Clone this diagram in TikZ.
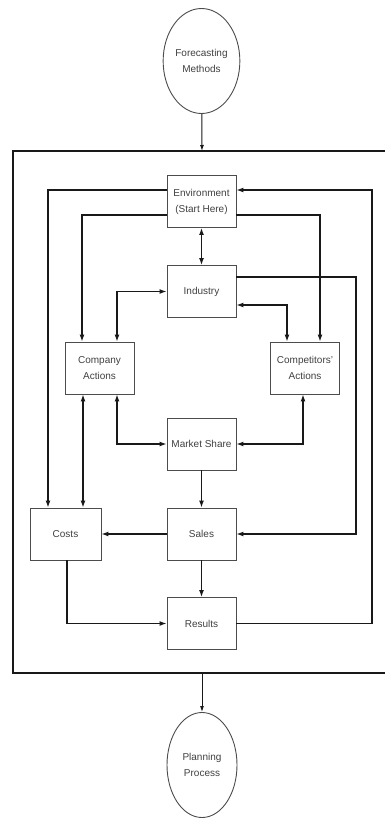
\documentclass[tikz,border=0pt]{standalone}
\usepackage{fontspec}
\setmainfont{Liberation Sans}
\usetikzlibrary{shapes.geometric,arrows.meta,calc}
\begin{document}
\begin{tikzpicture}[x=1pt,y=-1pt,
  every node/.style={font=\fontsize{10}{16}\selectfont, text=black!75},
  blk/.style={draw=black!70, line width=0.9pt, minimum width=69pt, minimum height=52pt, align=center, inner sep=1pt},
  oval/.style={ellipse, draw=black!70, line width=0.9pt, minimum width=70pt, minimum height=105pt, align=center, inner sep=1pt},
  conn/.style={draw=black!90, line width=1.3pt},
  arr/.style={conn, -{Latex[length=7pt,width=5pt]}},
  dbl/.style={conn, {Latex[length=7pt,width=5pt]}-{Latex[length=7pt,width=5pt]}},
  thin arr/.style={draw=black!90, line width=1pt, -{Latex[length=6pt,width=4pt]}}
]
\useasboundingbox (0,0) rectangle (385,820);

% outer frame (open to the right edge)
\coordinate (otl) at (13,151);
\coordinate (obl) at (13,673);
\coordinate (otr) at (386,151);
\coordinate (obr) at (386,673);
\coordinate (otop) at (202,151);
\coordinate (obot) at (202,673);
\draw[draw=black!90, line width=1.2pt] (otr) -- (otl) -- (obl) -- (obr);

\node[oval] (fm) at (201.5,61) {Forecasting\\Methods};
\node[oval] (pp) at (202,765) {Planning\\Process};

\node[blk] (env) at (201.5,201.5) {Environment\\(Start Here)};
\node[blk] (ind) at (201.5,291.5) {Industry};
\node[blk] (comp) at (99.5,368) {Company\\Actions};
\node[blk] (compt) at (305,368) {Competitors'\\Actions};
\node[blk] (ms) at (201.5,444) {Market Share};
\node[blk, minimum width=71pt] (cost) at (65.5,534) {Costs};
\node[blk] (sales) at (201.5,534) {Sales};
\node[blk] (res) at (201.5,623.5) {Results};

\draw[thin arr] (fm) -- (otop);
\draw[thin arr] (obot) -- (pp);

\draw[arr] (env.west |- 0,190) -| (cost.north -| 48,0);
\draw[arr] (env.west |- 0,215) -| (comp.north -| 82,0);
\draw[arr] (env.east |- 0,215) -| (compt.north -| 320,0);
\draw[arr] (res.east) -| (372,190) -- (env.east |- 0,190);
\draw[dbl] (env) -- (ind);
\draw[dbl] (ind.west) -| (comp.north -| 117,0);
\draw[dbl] (ind.east |- 0,305) -| (compt.north -| 287,0);
\draw[arr] (ind.east |- 0,277) -| (356,534) -- (sales.east);
\draw[dbl] (comp.south -| 117,0) |- (ms.west);
\draw[dbl] (compt.south -| 303,0) |- (ms.east);
\draw[dbl] (comp.south -| 83,0) -- (cost.north -| 83,0);
\draw[arr] (ms) -- (sales);
\draw[arr] (sales) -- (cost);
\draw[arr] (sales) -- (res);
\draw[arr] (cost.south -| 67,0) |- (res.west);
\end{tikzpicture}
\end{document}
